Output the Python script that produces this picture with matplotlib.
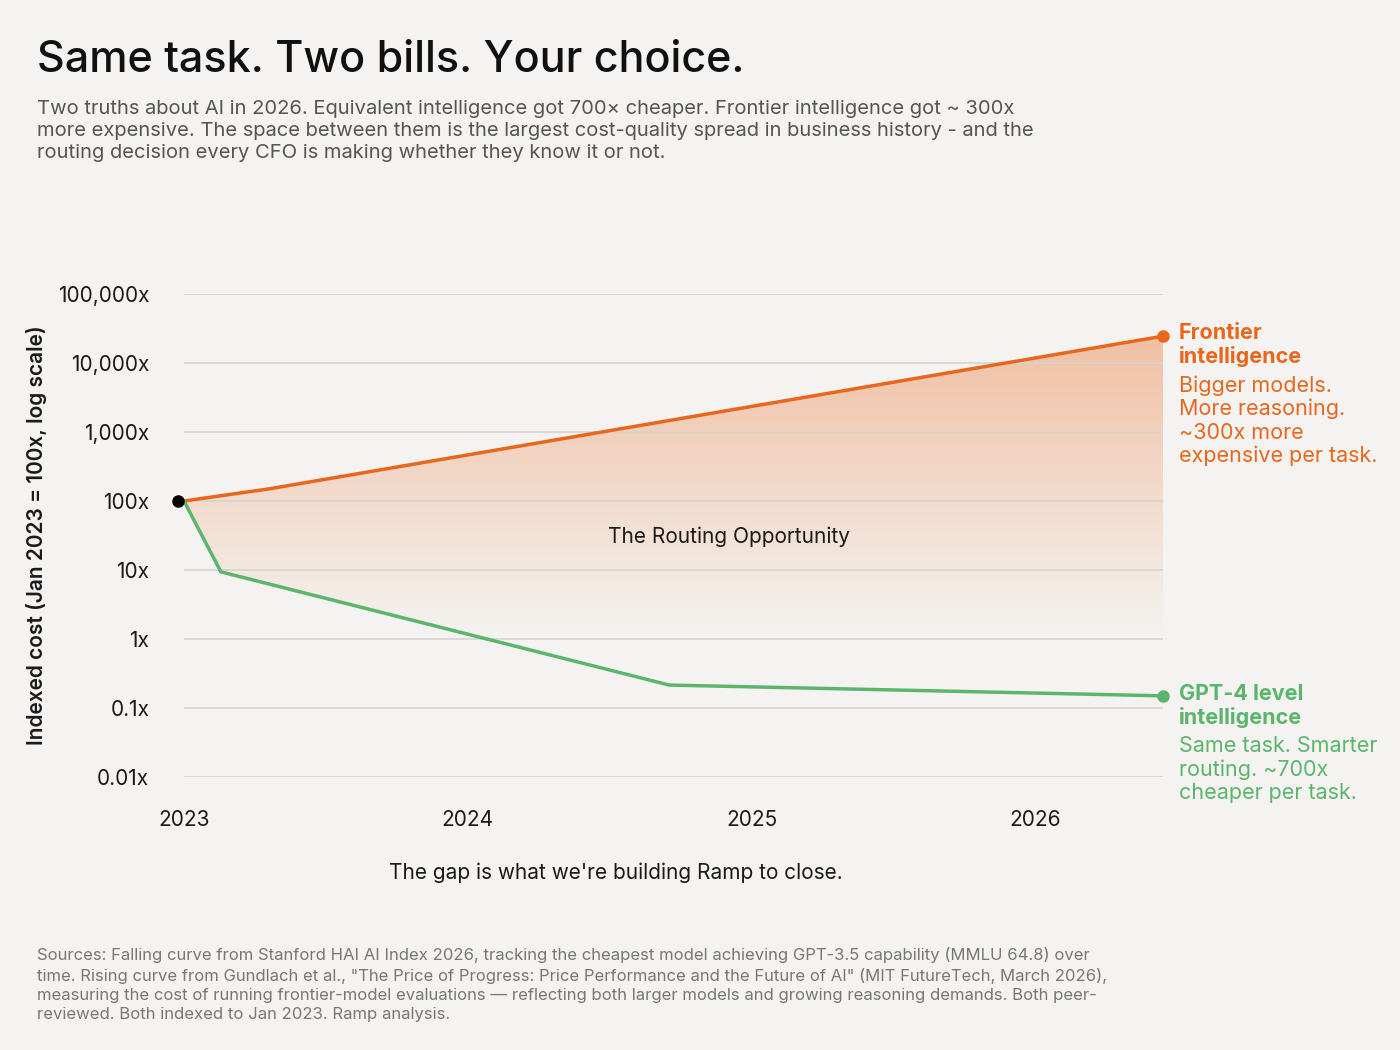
import numpy as np
import matplotlib.pyplot as plt
from matplotlib.colors import LinearSegmentedColormap

BG = "#f4f3f1"
ORANGE = "#e8671c"
GREEN = "#5bb56c"
GRID = "#d6d4d1"

frontier_x = [2023.0, 2023.3, 2026.45]
frontier_y = [100, 150, 24500]
gpt4_x = [2023.0, 2023.13, 2024.71, 2026.45]
gpt4_y = [100, 9.4, 0.215, 0.15]
y_ticks = [0.01, 0.1, 1, 10, 100, 1000, 10000, 100000]
y_labels = ["0.01x", "0.1x", "1x", "10x", "100x", "1,000x", "10,000x", "100,000x"]
x_ticks = [2023, 2024, 2025, 2026]

plt.rcParams["font.family"] = ["Inter", "DejaVu Sans"]
fig = plt.figure(figsize=(14, 10.5), dpi=100, facecolor=BG)
rect = [184 / 1400, 1 - 777 / 1050, (1163 - 184) / 1400, (777 - 294) / 1050]

# background axes in log10 units, holds the gradient fill
axf = fig.add_axes(rect, zorder=0)
axf.set_facecolor(BG)
axf.set_xlim(2023.0, 2026.45)
axf.set_ylim(-2, 5)
axf.axis("off")
xs = np.linspace(2023.0, 2026.45, 400)
top = np.interp(xs, frontier_x, np.log10(frontier_y))
bot = np.interp(xs, gpt4_x, np.log10(gpt4_y))
poly = axf.fill_between(xs, bot, top, color="none", lw=0)
cmap = LinearSegmentedColormap.from_list("g", [(0.93, 0.55, 0.33, 0.0), (0.93, 0.55, 0.33, 0.5)])
grad = np.linspace(0, 1, 256).reshape(-1, 1)
im = axf.imshow(grad, cmap=cmap, aspect="auto", origin="lower",
                extent=[2023.0, 2026.45, 0.0, 4.4], zorder=1)
im.set_clip_path(poly.get_paths()[0], transform=axf.transData)

ax = fig.add_axes(rect, zorder=1)
ax.patch.set_alpha(0)
ax.set_yscale("log")
ax.set_ylim(0.01, 100000)
ax.set_xlim(2023.0, 2026.45)

for t in y_ticks:
    ax.axhline(t, color=GRID, lw=1.2, zorder=0)

ax.plot(frontier_x, frontier_y, color=ORANGE, lw=2.5, zorder=3)
ax.plot(gpt4_x, gpt4_y, color=GREEN, lw=2.5, zorder=3)
ax.plot(frontier_x[-1], frontier_y[-1], "o", color=ORANGE, ms=8, zorder=4, clip_on=False)
ax.plot(gpt4_x[-1], gpt4_y[-1], "o", color=GREEN, ms=8, zorder=4, clip_on=False)
ax.plot(2022.98, 100, "o", color="black", ms=8, zorder=5, clip_on=False)

ax.set_yticks(y_ticks)
ax.set_yticklabels(y_labels)
ax.minorticks_off()
ax.set_xticks(x_ticks)
ax.set_xticklabels([str(x) for x in x_ticks])
ax.tick_params(length=0, labelsize=15, colors="#1a1a1a")
ax.tick_params(axis="x", pad=24)
ax.tick_params(axis="y", pad=25)
for s in ax.spines.values():
    s.set_visible(False)
ax.set_ylabel("Indexed cost (Jan 2023 = 100x, log scale)", fontsize=15,
              fontweight="semibold", color="#1a1a1a")
ax.yaxis.set_label_coords(-0.14, 0.5)

ax.text(2024.92, 30, "The Routing Opportunity", fontsize=15, ha="center", va="center", color="#1a1a1a")

fig.text(1179 / 1400, 1 - 323 / 1050, "Frontier\nintelligence", color=ORANGE, fontsize=15.5,
         fontweight="bold", va="top", linespacing=1.2)
fig.text(1179 / 1400, 1 - 375 / 1050, "Bigger models.\nMore reasoning.\n~300x more\nexpensive per task.",
         color=ORANGE, fontsize=15.5, va="top", linespacing=1.2)
fig.text(1179 / 1400, 1 - 684 / 1050, "GPT-4 level\nintelligence", color=GREEN, fontsize=15.5,
         fontweight="bold", va="top", linespacing=1.2)
fig.text(1179 / 1400, 1 - 736 / 1050, "Same task. Smarter\nrouting. ~700x\ncheaper per task.",
         color=GREEN, fontsize=15.5, va="top", linespacing=1.2)

fig.text(37 / 1400, 1 - 60 / 1050, "Same task. Two bills. Your choice.", fontsize=31,
         fontweight="medium", va="center", color="#111111")
fig.text(37 / 1400, 1 - 100 / 1050,
         "Two truths about AI in 2026. Equivalent intelligence got 700× cheaper. Frontier intelligence got ~ 300x\n"
         "more expensive. The space between them is the largest cost-quality spread in business history - and the\n"
         "routing decision every CFO is making whether they know it or not.",
         fontsize=14.5, va="top", color="#555555", linespacing=1.3)
fig.text(616 / 1400, 1 - 873 / 1050, "The gap is what we're building Ramp to close.",
         fontsize=15, ha="center", va="center", color="#1a1a1a")
fig.text(37 / 1400, 1 - 947 / 1050,
         "Sources: Falling curve from Stanford HAI AI Index 2026, tracking the cheapest model achieving GPT-3.5 capability (MMLU 64.8) over\n"
         "time. Rising curve from Gundlach et al., \"The Price of Progress: Price Performance and the Future of AI\" (MIT FutureTech, March 2026),\n"
         "measuring the cost of running frontier-model evaluations — reflecting both larger models and growing reasoning demands. Both peer-\n"
         "reviewed. Both indexed to Jan 2023. Ramp analysis.",
         fontsize=12, va="top", color="#777777", linespacing=1.35)

fig.savefig("out.png", dpi=100, facecolor=BG)
